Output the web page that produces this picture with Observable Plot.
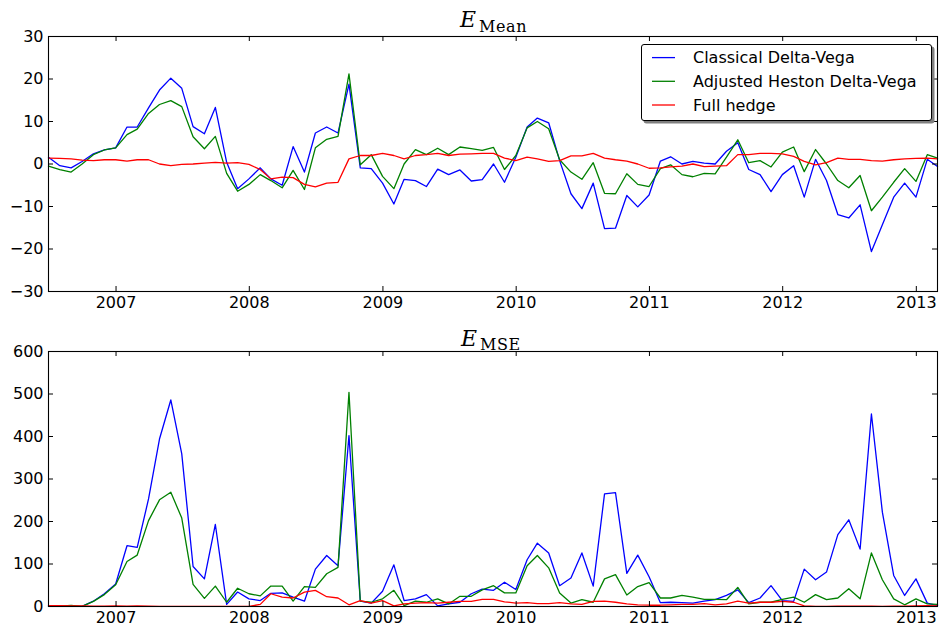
<!DOCTYPE html>
<html>
<head>
<meta charset="utf-8">
<script src="https://cdn.jsdelivr.net/npm/d3@7"></script>
<script src="https://cdn.jsdelivr.net/npm/@observablehq/plot@0.6"></script>
<style>
  html, body { margin: 0; padding: 0; background: #fff; }
  body { position: relative; width: 939px; height: 631px; overflow: hidden; font-family: "DejaVu Sans", sans-serif; }
  .panel { position: absolute; left: 0; }
  .overlay { position: absolute; left: 0; top: 0; pointer-events: none; }
</style>
</head>
<body>
<div id="topPanel" class="panel" style="top:0px"></div>
<div id="bottomPanel" class="panel" style="top:321px"></div>

<svg class="overlay" width="939" height="631">
  <g font-family="DejaVu Serif" fill="#000">
    <text x="460" y="27" font-size="22" font-style="italic">E</text>
    <text x="479" y="32" font-size="16" letter-spacing="0.6">Mean</text>
    <text x="461" y="346" font-size="22" font-style="italic">E</text>
    <text x="480" y="350" font-size="16" letter-spacing="0.6">MSE</text>
  </g>
</svg>

<div id="legend" style="position:absolute;left:641px;top:44px;width:289px;height:75px;border:1px solid #000;border-radius:3px;background:#fff;box-shadow:2.5px 2.5px 0 #808080;">
  <svg id="legendSvg" width="289" height="75" style="display:block"></svg>
</div>

<script>
// ---------------- DATA ----------------
const months = [
  "2006-06","2006-07","2006-08","2006-09","2006-10","2006-11","2006-12",
  "2007-01","2007-02","2007-03","2007-04","2007-05","2007-06","2007-07","2007-08","2007-09","2007-10","2007-11","2007-12",
  "2008-01","2008-02","2008-03","2008-04","2008-05","2008-06","2008-07","2008-08","2008-09","2008-10","2008-11","2008-12",
  "2009-01","2009-02","2009-03","2009-04","2009-05","2009-06","2009-07","2009-08","2009-09","2009-10","2009-11","2009-12",
  "2010-01","2010-02","2010-03","2010-04","2010-05","2010-06","2010-07","2010-08","2010-09","2010-10","2010-11","2010-12",
  "2011-01","2011-02","2011-03","2011-04","2011-05","2011-06","2011-07","2011-08","2011-09","2011-10","2011-11","2011-12",
  "2012-01","2012-02","2012-03","2012-04","2012-05","2012-06","2012-07","2012-08","2012-09","2012-10","2012-11","2012-12",
  "2013-01","2013-02"
];

const seriesNames = ["Classical Delta-Vega", "Adjusted Heston Delta-Vega", "Full hedge"];
const seriesColors = ["#0000ff", "#008000", "#ff0000"];

// E_Mean panel
const meanClassical = [
  1.6,-0.4,-0.9,0.6,2.4,3.3,3.8,8.7,8.7,13.2,17.4,20.2,17.8,8.8,7.1,13.3,0.4,-5.8,-3.5,-0.9,
  -3.5,-5.0,4.1,-1.9,7.3,8.7,7.3,18.8,-0.9,-1.1,-4.5,-9.4,-3.6,-3.9,-5.3,-1.2,-2.5,-1.4,-4.0,-3.7,
  0.0,-4.3,1.6,8.7,10.8,9.7,0.8,-7.0,-10.5,-4.5,-15.2,-15.1,-7.4,-10.1,-7.3,0.7,1.7,0.0,0.6,0.2,
  0.0,3.0,5.0,-1.3,-2.5,-6.5,-2.5,-0.4,-7.8,1.1,-3.9,-11.9,-12.7,-9.6,-20.6,-14.3,-7.8,-4.5,-7.8,1.1,
  -0.6
];
const meanAdjusted = [
  -0.5,-1.3,-1.9,0.0,2.2,3.3,3.8,6.9,8.2,11.9,14.0,14.9,13.5,6.4,3.6,6.5,-2.2,-6.4,-4.8,-2.5,
  -3.9,-5.6,-1.5,-6.0,3.8,5.8,6.5,21.2,-0.2,2.2,-2.9,-5.8,0.0,3.4,2.2,3.7,2.2,4.0,3.6,3.2,
  3.9,-1.3,2.0,8.5,10.0,8.3,1.0,-1.9,-3.6,0.3,-6.9,-7.0,-2.3,-4.8,-5.3,-1.1,-0.2,-2.5,-3.0,-2.2,
  -2.3,1.6,5.7,0.3,0.8,-0.7,2.8,4.0,-1.8,3.4,0.0,-3.9,-5.6,-2.7,-11.0,-7.8,-4.3,-1.1,-4.1,2.2,
  1.4
];
const meanFull = [
  1.4,1.3,1.2,0.9,0.8,1.0,1.0,0.7,1.0,1.0,0.0,-0.4,-0.1,0.0,0.2,0.4,0.2,0.3,-0.1,-1.3,
  -3.5,-3.1,-3.2,-4.8,-5.4,-4.5,-4.3,1.2,2.0,2.0,2.5,2.0,1.2,2.0,2.2,2.5,2.0,2.3,2.4,2.5,
  2.5,1.4,0.8,1.6,1.2,0.6,0.8,1.9,1.9,2.5,1.4,1.0,0.7,0.0,-1.0,-0.9,-0.7,-0.5,0.0,-0.6,
  -0.5,-0.4,2.2,2.2,2.5,2.5,2.4,1.8,0.6,-0.2,0.3,1.4,1.1,1.1,0.8,0.7,1.0,1.2,1.3,1.4,
  1.2
];

// E_MSE panel
const mseClassical = [
  1.5,0.5,0.5,0.5,12.5,30,53,143,139,253,394,486,359,94,65,193,5,34,18,14,
  31,32,22,12.5,88,120,96,402,12.5,8,36,98,14,18,28,1.5,6,10,30,41,
  38,57,40,110,149,126,49,67,126,48,265,268,78,121,70,9,10,9,8,12.5,
  16,26,39,9,20,49,14,12,88,63,81,169,204,135,453,222,73,26,65,8,
  2
];
const mseAdjusted = [
  0.5,1,2.5,0.5,12,28,51,106,121,202,251,269,208,52,19,48,10,43,30,25,
  48,48,12.5,47,45,77,92,504,12.5,10,18,38,2,12.5,10,18,6,24,24,39,
  49,32,32,96,120,91,32,8,16,10,65,75,27,47,56,20,20,26,22,17,
  17,16,45,6,10,10,17,22,10,28,16,20,42,18,126,63,18,4,18,6,
  5
];
const mseFull = [
  2,2,1.5,1.5,1,1,1.5,1,1.5,1,0.2,0.2,0.2,0.3,0.3,0.5,0.5,0.3,0.3,5,
  30,22,20,34,38,23,20,4,14,8,14,1.5,6,8,9,8,10,12,12,17,
  17,11,8,9,7,7,9,6,5,12,12.5,10,6,4,3,3,4,5,5,7,
  4,6,12.5,8,10,10,12,10,1.5,0.5,0.5,1,1,0.8,0.6,0.5,0.8,1,1.5,2,
  1.5
];

const xTickValues = ["2007-01-01","2008-01-01","2009-01-01","2010-01-01","2011-01-01","2012-01-01","2013-01-01"];
const xTickLabels = ["2007","2008","2009","2010","2011","2012","2013"];

const meanTicks = [-30,-20,-10,0,10,20,30];
const meanTickLabels = ["\u221230","\u221220","\u221210","0","10","20","30"];
const mseTicks = [0,100,200,300,400,500,600];
const mseTickLabels = ["0","100","200","300","400","500","600"];

// ---------------- BUILD ----------------
const parseMonth = d3.utcParse("%Y-%m");
const dates = months.map(m => d3.utcDay.offset(d3.utcMonth.offset(parseMonth(m), 1), -1));
const xTicks = xTickValues.map(s => new Date(s + "T00:00:00Z"));
const xLabelMap = new Map(xTicks.map((t, i) => [+t, xTickLabels[i]]));

const W = 939, ML = 48, MR = 2;
const plotW = W - ML - MR;
const TICK = 5;

function panel(seriesList, yTicks, yLabels, mTop, mBottom, height) {
  const plotH = height - mTop - mBottom;
  const yLabelMap = new Map(yTicks.map((t, i) => [t, yLabels[i]]));
  const marks = [];
  seriesList.forEach((vals, k) => {
    const rows = vals.map((v, i) => ({date: dates[i], value: v}));
    marks.push(Plot.line(rows, {x: "date", y: "value", stroke: seriesColors[k], strokeWidth: 1.3}));
  });
  marks.push(
    Plot.frame({stroke: "#000", strokeWidth: 1.1}),
    Plot.tickX(xTicks, {x: d => d, insetTop: plotH - TICK, stroke: "#000", strokeWidth: 1}),
    Plot.tickX(xTicks, {x: d => d, insetBottom: plotH - TICK, stroke: "#000", strokeWidth: 1}),
    Plot.tickY(yTicks, {y: d => d, insetRight: plotW - TICK, stroke: "#000", strokeWidth: 1}),
    Plot.tickY(yTicks, {y: d => d, insetLeft: plotW - TICK, stroke: "#000", strokeWidth: 1}),
    Plot.axisX({ticks: xTicks, tickSize: 0, tickPadding: 5.5, tickFormat: d => xLabelMap.get(+d), fontSize: 16, label: null}),
    Plot.axisY({ticks: yTicks, tickSize: 0, tickPadding: 5, tickFormat: d => yLabelMap.get(d), fontSize: 16, label: null})
  );
  return Plot.plot({
    width: W, height,
    marginLeft: ML, marginRight: MR, marginTop: mTop, marginBottom: mBottom,
    style: {fontFamily: "DejaVu Sans", fontSize: "16px", color: "#000", background: "transparent", overflow: "visible"},
    x: {type: "utc", domain: [dates[0], dates[dates.length - 1]]},
    y: {domain: [yTicks[0], yTicks[yTicks.length - 1]]},
    marks
  });
}

document.getElementById("topPanel").append(
  panel([meanClassical, meanAdjusted, meanFull], meanTicks, meanTickLabels, 36, 30, 321)
);
document.getElementById("bottomPanel").append(
  panel([mseClassical, mseAdjusted, mseFull], mseTicks, mseTickLabels, 30, 25, 310)
);

// legend
const lg = d3.select("#legendSvg");
const baselines = [18.3, 42, 65.7];
seriesNames.forEach((name, i) => {
  const cy = baselines[i] - 5.7;
  lg.append("line").attr("x1", 10).attr("x2", 33).attr("y1", cy).attr("y2", cy)
    .attr("stroke", seriesColors[i]).attr("stroke-width", 1.3);
  lg.append("text").attr("x", 51).attr("y", baselines[i])
    .attr("font-family", "DejaVu Sans").attr("font-size", 16).attr("fill", "#000").text(name);
});
</script>
</body>
</html>
